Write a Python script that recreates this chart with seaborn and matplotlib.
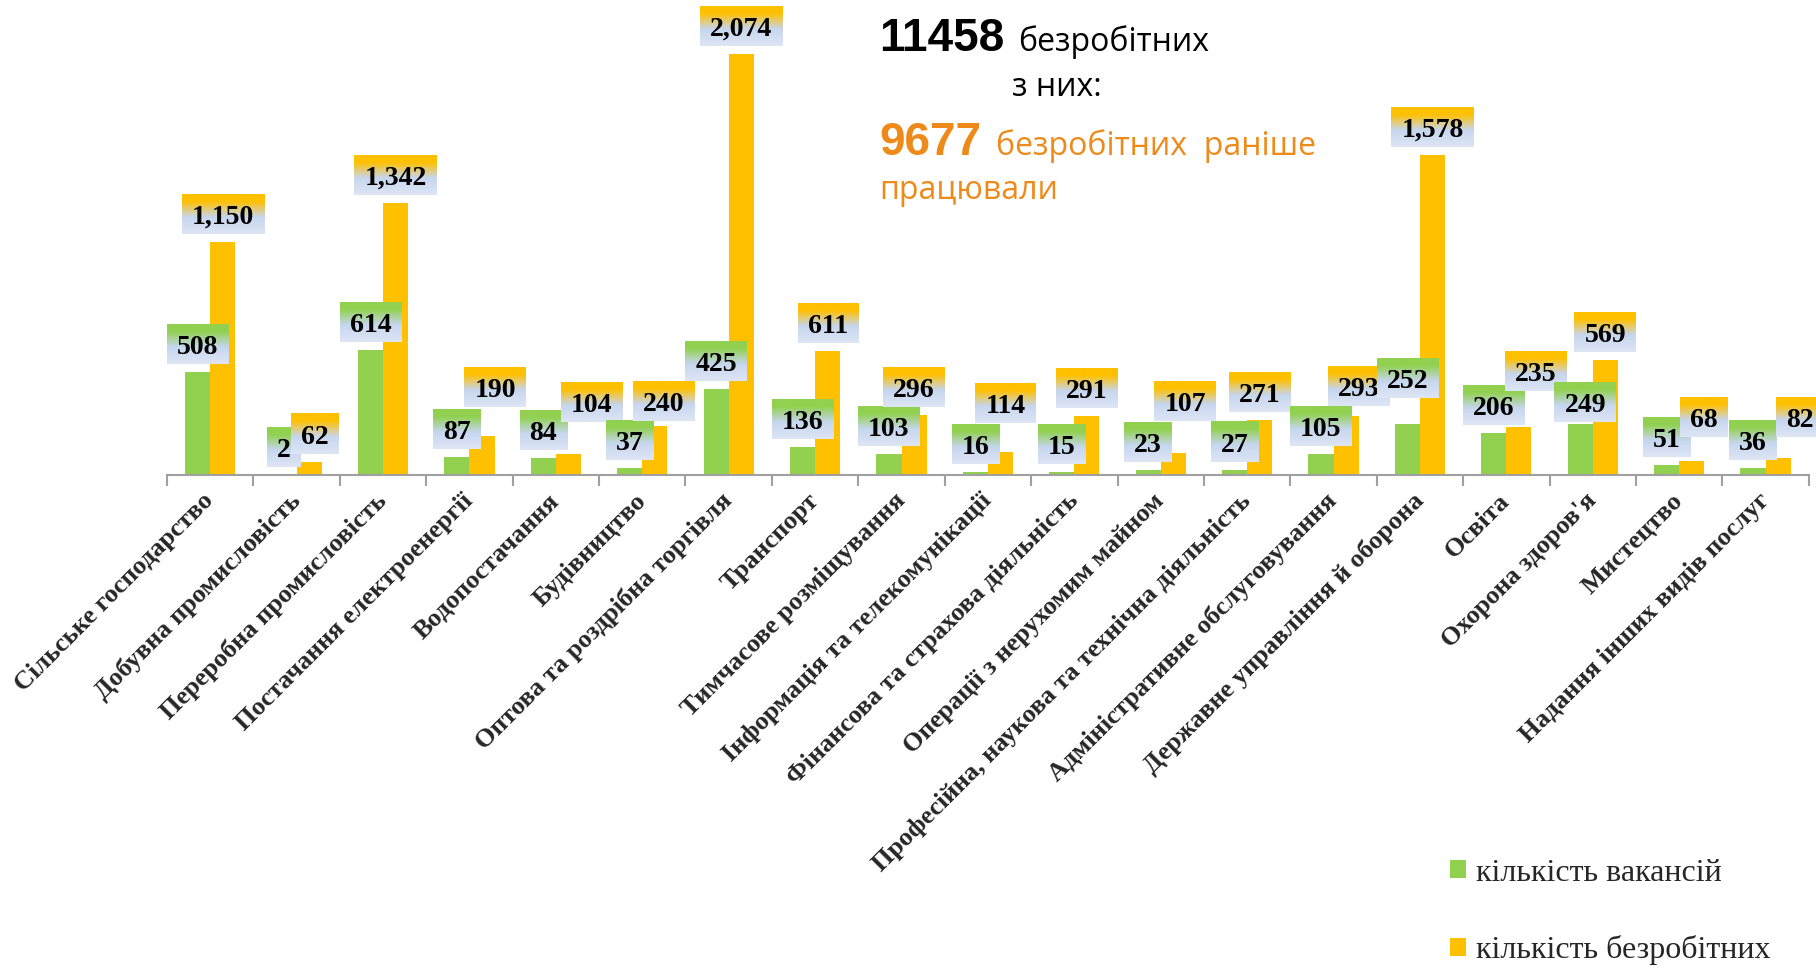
import numpy as np
import pandas as pd
import matplotlib
matplotlib.use("Agg")
import matplotlib.pyplot as plt
import matplotlib.colors as mcolors
from matplotlib import transforms
import seaborn as sns

categories = [
    "Сільське господарство", "Добувна промисловість", "Переробна промисловість",
    "Постачання електроенергії", "Водопостачання", "Будівництво",
    "Оптова та роздрібна торгівля", "Транспорт", "Тимчасове розміщування",
    "Інформація та телекомунікації", "Фінансова та страхова діяльність",
    "Операції з нерухомим майном", "Професійна, наукова та технічна діяльність",
    "Адміністративне обслуговування", "Державне управління й оборона",
    "Освіта", "Охорона здоров'я", "Мистецтво", "Надання інших видів послуг",
]
vacancies = [508, 2, 614, 87, 84, 37, 425, 136, 103, 16, 15, 23, 27, 105, 252, 206, 249, 51, 36]
unemployed = [1150, 62, 1342, 190, 104, 240, 2074, 611, 296, 114, 291, 107, 271, 293, 1578, 235, 569, 68, 82]
series_names = ["кількість вакансій", "кількість безробітних"]
colors = ["#92D050", "#FFC000"]

df = pd.DataFrame({
    "cat": categories * 2,
    "value": vacancies + unemployed,
    "series": [series_names[0]] * len(categories) + [series_names[1]] * len(categories),
})

sns.set_theme(style="white")
plt.rcParams["font.family"] = ["Liberation Serif", "DejaVu Serif"]

W, H = 1816, 973
fig = plt.figure(figsize=(W / 100, H / 100), dpi=100)
ax = fig.add_axes([0.092, 0.5118, 0.904, 0.4797])
sns.barplot(data=df, x="cat", y="value", hue="series", palette=colors, width=0.58,
            saturation=1, linewidth=0, ax=ax)
handles, labels = ax.get_legend_handles_labels()
if ax.get_legend() is not None:
    ax.get_legend().remove()

ax.set_xlim(-0.5, len(categories) - 0.5)
ax.set_ylim(0, 2300)
for s in ["left", "right", "top"]:
    ax.spines[s].set_visible(False)
ax.spines["bottom"].set_color("#A0A0A0")
ax.spines["bottom"].set_linewidth(1.5)
ax.set_yticks([])
ax.set_xlabel("")
ax.set_ylabel("")
ax.set_xticks(range(len(categories)))
ax.set_xticklabels(categories, rotation=45, ha="right", va="center",
                   rotation_mode="anchor", fontsize=19, fontweight="bold")
ax.set_xticks(np.arange(-0.5, len(categories), 1), minor=True)
ax.tick_params(axis="x", which="major", bottom=True, length=0, pad=16)
ax.tick_params(axis="x", which="minor", bottom=True, length=8, width=1.5,
               color="#A0A0A0", direction="out")

renderer = fig.canvas.get_renderer()


def gradient(color):
    c = np.array(mcolors.to_rgb(color))
    mid = np.array([0.78, 0.84, 0.94])
    bot = np.array([0.87, 0.90, 0.96])
    stops = [0, 0.18, 0.58, 1.0]
    vals = np.array([c, c, mid, bot])
    t = np.linspace(0, 1, 80)
    img = np.stack([np.interp(t, stops, vals[:, k]) for k in range(3)], axis=-1)
    return img[:, None, :]


# manual nudges of individual data labels (pixels: right, up), as in the reference
label_nudge = {
    (1, 1): (6, 0), (1, 3): (13, 21), (1, 4): (23, 24), (1, 5): (9, -3),
    (1, 9): (5, 21), (1, 11): (12, 24), (1, 13): (13, 2), (0, 14): (0, 18),
    (1, 15): (17, 28), (0, 16): (5, -6), (1, 17): (12, 16), (1, 18): (22, 13),
}
gap_px, pad_x, box_h, base_off = 8, 10, 40, 10
z = 3
n = len(categories)
inv = ax.transData.inverted()
for i in range(n):
    for s, cont in enumerate(ax.containers):
        bar = cont[i]
        xc = bar.get_x() + bar.get_width() / 2
        h = bar.get_height()
        ndx, ndy = label_nudge.get((s, i), (0, 0))
        lift = gap_px + ndy
        trans = transforms.offset_copy(ax.transData, fig=fig, x=ndx, y=lift + base_off,
                                       units="dots")
        txt = ax.text(xc, h, f"{int(round(h)):,}", transform=trans, ha="center",
                      va="baseline", fontsize=20, fontweight="bold", zorder=z + 1,
                      clip_on=False, color="black")
        bb = txt.get_window_extent(renderer)
        px, py = ax.transData.transform((xc, h))
        y0 = py + lift
        (dx0, dy0), (dx1, dy1) = inv.transform([(bb.x0 - pad_x, y0),
                                                 (bb.x1 + pad_x, y0 + box_h)])
        ax.imshow(gradient(colors[s]), extent=(dx0, dx1, dy0, dy1), aspect="auto",
                  origin="upper", zorder=z, clip_on=False, interpolation="bilinear")
        z += 2

ax.set_xlim(-0.5, len(categories) - 0.5)
ax.set_ylim(0, 2300)

fig.legend(handles, labels, loc="center left", bbox_to_anchor=(1450 / W, 1 - 912 / H),
           frameon=False, fontsize=23, labelspacing=1.5, handlelength=0.5,
           handleheight=0.5, handletextpad=0.3, borderpad=0, borderaxespad=0)

orange = "#EE8A1A"
sans = ["Open Sans", "DejaVu Sans"]
fig.text(879 / W, 1 - 51 / H, "11458", fontsize=33, fontweight="bold",
         family=["Liberation Sans", "DejaVu Sans"], va="baseline", color="black")
fig.text(1018 / W, 1 - 51 / H, "безробітних", fontsize=23, family=sans,
         va="baseline", color="black")
fig.text(1012 / W, 1 - 96 / H, "з них:", fontsize=23, family=sans,
         va="baseline", color="black")
fig.text(879 / W, 1 - 155 / H, "9677", fontsize=33, fontweight="bold",
         family=["Liberation Sans", "DejaVu Sans"], va="baseline", color=orange)
fig.text(996 / W, 1 - 155 / H, "безробітних  раніше", fontsize=23, family=sans,
         va="baseline", color=orange)
fig.text(879 / W, 1 - 199 / H, "працювали", fontsize=23, family=sans,
         va="baseline", color=orange)

fig.savefig("out.png", dpi=100)
